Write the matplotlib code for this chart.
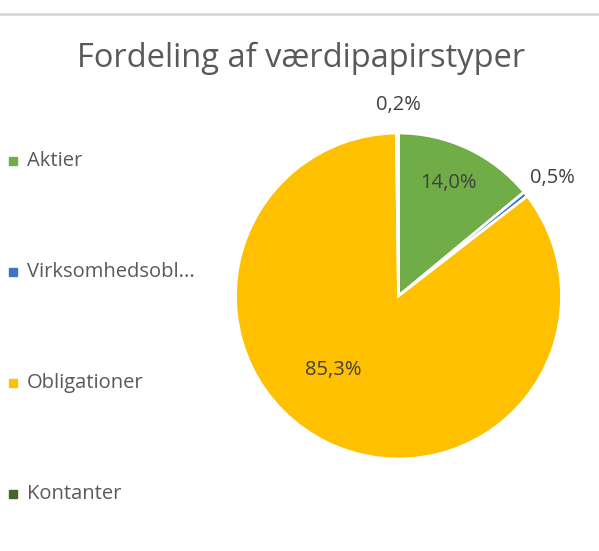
import matplotlib.pyplot as plt
from matplotlib.lines import Line2D

# data
labels = ['Aktier', 'Virksomhedsobl...', 'Obligationer', 'Kontanter']
values = [14.0, 0.5, 85.3, 0.2]
colors = ['#70AD47', '#4472C4', '#FFC000', '#43682B']
# label positions (pie data coords)
label_pos = [(0.304, 0.693), (0.945, 0.724), (-0.402, -0.454), (0.0, 1.172)]

plt.rcParams['font.family'] = ['Open Sans', 'DejaVu Sans']

fig = plt.figure(figsize=(5.99, 5.51), dpi=100)
W, H = 599, 551
cx, cy, r = 398.5, 296, 163
ax = fig.add_axes([(cx - r) / W, (H - cy - r) / H, 2 * r / W, 2 * r / H])

wedges, _ = ax.pie(values, colors=colors, startangle=90, counterclock=False,
                   radius=1, wedgeprops=dict(edgecolor='white', linewidth=2))
ax.set_xlim(-1, 1)
ax.set_ylim(-1, 1)

for v, (x, y) in zip(values, label_pos):
    ax.text(x, y, f'{v:.1f}%'.replace('.', ','), ha='center', va='center',
            fontsize=14.5, color='#404040', clip_on=False)

fig.text(0.503, 1 - 58 / H, 'Fordeling af værdipapirstyper', ha='center', va='center',
         fontsize=23.5, color='#595959')

# legend on the left
leg_y = [161, 272, 383, 494]
for lab, c, y in zip(labels, colors, leg_y):
    fig.patches.append(plt.Rectangle((9 / W, 1 - (y + 4) / H), 8 / W, 8 / H,
                                     transform=fig.transFigure, color=c))
    fig.text(27 / W, 1 - y / H, lab, ha='left', va='center', fontsize=14.5, color='#595959')

# thin grey rule at the top
fig.add_artist(Line2D([0, 1], [1 - 14 / H, 1 - 14 / H], color='#D9D9D9', linewidth=2,
                      transform=fig.transFigure))

fig.savefig('out.png', dpi=100)
